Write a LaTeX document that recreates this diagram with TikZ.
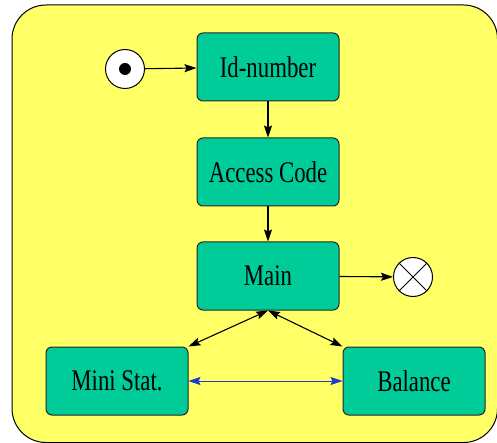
\documentclass[tikz,border=0pt]{standalone}
\usepackage{fontspec}
\setmainfont{Liberation Serif}
\newfontfamily\statefont[FakeStretch=0.76]{Liberation Serif}
\usetikzlibrary{arrows.meta}

\definecolor{statebg}{RGB}{255,255,102}
\definecolor{statefill}{RGB}{0,204,153}
\definecolor{linkblue}{RGB}{26,60,208}

\tikzset{
  state/.style={draw=black!85,fill=statefill,rounded corners=6pt,line width=1pt,
    minimum width=142pt,minimum height=68pt,inner sep=0pt,
    font=\statefont\fontsize{30}{32}\selectfont},
  pseudo/.style={circle,draw=black,fill=white,line width=1pt,minimum size=39pt,inner sep=0pt},
  tip/.style={Stealth[length=12pt,width=8pt,inset=2pt]},
  trans/.style={line width=1.1pt,-{Stealth[length=12pt,width=8pt,inset=2pt]}},
  both/.style={line width=1.1pt,{Stealth[length=12pt,width=8pt,inset=2pt]}-{Stealth[length=12pt,width=8pt,inset=2pt]}}
}

\begin{document}
\begin{tikzpicture}[x=1pt,y=-1pt]
  \useasboundingbox (0,0) rectangle (497,443);
  \clip (0,0) rectangle (497,443);
  % enclosing state
  \draw[fill=statebg,line width=1pt,rounded corners=34pt] (12,5) rectangle (497.5,442.5);

  \node[state] (idnum) at (268,67) {Id-number};
  \node[state] (access) at (268,172) {Access Code};
  \node[state] (main) at (268,276) {Main};
  \node[state] (mini) at (117,381) {Mini Stat.};
  \node[state] (balance) at (414,381) {Balance};

  \node[pseudo] (start) at (125,69) {};
  \fill (start) circle (6pt);
  \node[pseudo] (stop) at (413,277) {};
  \draw[line width=1pt] (stop.45) -- (stop.225) (stop.135) -- (stop.315);

  \draw[trans] (start) -- (idnum);
  \draw[trans] (idnum) -- (access);
  \draw[trans] (access) -- (main);
  \draw[trans] (main) -- (stop);
  \draw[both] (main.south) -- (mini.north east);
  \draw[both] (main.south) -- (balance.north west);
  \draw[both,draw=linkblue,line width=0.9pt] (mini) -- (balance);
\end{tikzpicture}
\end{document}
